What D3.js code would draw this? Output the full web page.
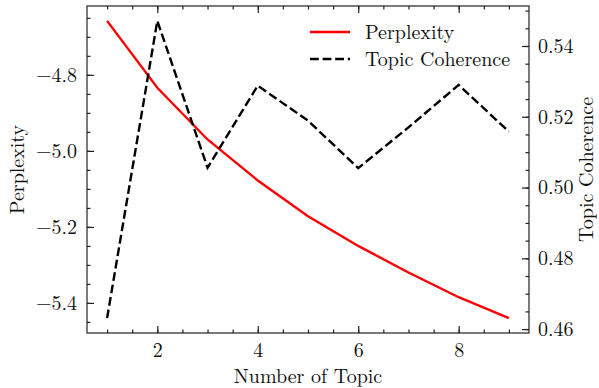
<!DOCTYPE html>
<html>
<head>
<meta charset="utf-8">
<script src="https://cdn.jsdelivr.net/npm/d3@7"></script>
<style>
  body { margin: 0; background: #fff; }
  svg { display: block; }
</style>
</head>
<body>
<div id="chart"></div>
<script>
// values
const topics = [1, 2, 3, 4, 5, 6, 7, 8, 9];
const perplexity = [-4.658, -4.834, -4.970, -5.078, -5.172, -5.250, -5.320, -5.385, -5.440];
const coherence = [0.4631, 0.5471, 0.5056, 0.5288, 0.5189, 0.5055, 0.5170, 0.5290, 0.5158];
const xTicks = [2, 4, 6, 8];
const leftTicks = [-5.4, -5.2, -5.0, -4.8];
const rightTicks = [0.46, 0.48, 0.50, 0.52, 0.54];
const seriesNames = ["Perplexity", "Topic Coherence"];

var width = 599,
	height = 388;
const margin = { top: 6, right: 70, bottom: 55, left: 87 };
const inner = { left: margin.left, right: width - margin.right, top: margin.top, bottom: height - margin.bottom };
const FONT = '"Latin Modern Roman", "Liberation Serif", serif';

// matplotlib style 5% padding
function padded(values) {
	const [lo, hi] = d3.extent(values);
	const p = (hi - lo) * 0.05;
	return [lo - p, hi + p];
}

const x = d3.scaleLinear().domain(padded(topics)).range([inner.left, inner.right]);
const yL = d3.scaleLinear().domain(padded(perplexity)).range([inner.bottom, inner.top]);
const yR = d3.scaleLinear().domain(padded(coherence)).range([inner.bottom, inner.top]);

const svg = d3.select("#chart").append("svg")
	.attr("width", width)
	.attr("height", height);

const major = 7, minor = 3.5, axisColor = "#222";

function minorRange(scale, step) {
	const [a, b] = scale.domain().slice().sort((p, q) => p - q);
	const out = [];
	for (let v = Math.ceil(a / step) * step; v <= b + 1e-9; v += step) out.push(+v.toFixed(6));
	return out;
}

function styleAxis(g) {
	g.attr("font-family", null).attr("font-size", null);
	g.select(".domain").remove();
	g.selectAll("line").attr("stroke", axisColor).attr("stroke-width", 1.2);
	g.selectAll("text").style("font-family", FONT).style("font-size", "20px").attr("fill", "#111");
}

function label(sel) {
	return sel.style("font-family", FONT).style("font-size", "20px").attr("fill", "#111");
}

// bottom axis
svg.append("g").attr("transform", `translate(0,${inner.bottom})`)
	.call(d3.axisBottom(x).tickValues(minorRange(x, 0.5)).tickSize(-minor).tickFormat(""))
	.call(styleAxis);
svg.append("g").attr("transform", `translate(0,${inner.bottom})`)
	.call(d3.axisBottom(x).tickValues(xTicks).tickSize(-major).tickPadding(10).tickFormat(d3.format("d")))
	.call(styleAxis);

// top axis (mirrored ticks)
svg.append("g").attr("transform", `translate(0,${inner.top})`)
	.call(d3.axisTop(x).tickValues(minorRange(x, 0.5)).tickSize(-minor).tickFormat(""))
	.call(styleAxis);
svg.append("g").attr("transform", `translate(0,${inner.top})`)
	.call(d3.axisTop(x).tickValues(xTicks).tickSize(-major).tickFormat(""))
	.call(styleAxis);

// left axis
svg.append("g").attr("transform", `translate(${inner.left},0)`)
	.call(d3.axisLeft(yL).tickValues(minorRange(yL, 0.05)).tickSize(-minor).tickFormat(""))
	.call(styleAxis);
svg.append("g").attr("transform", `translate(${inner.left},0)`)
	.call(d3.axisLeft(yL).tickValues(leftTicks).tickSize(-major).tickPadding(10).tickFormat(d3.format(".1f")))
	.call(styleAxis);

// right axis (twin)
svg.append("g").attr("transform", `translate(${inner.right},0)`)
	.call(d3.axisRight(yR).tickValues(minorRange(yR, 0.005)).tickSize(-minor).tickFormat(""))
	.call(styleAxis);
svg.append("g").attr("transform", `translate(${inner.right},0)`)
	.call(d3.axisRight(yR).tickValues(rightTicks).tickSize(-major).tickPadding(9).tickFormat(d3.format(".2f")))
	.call(styleAxis);

// frame
svg.append("rect")
	.attr("x", inner.left)
	.attr("y", inner.top)
	.attr("width", inner.right - inner.left)
	.attr("height", inner.bottom - inner.top)
	.attr("fill", "none")
	.attr("stroke", axisColor)
	.attr("stroke-width", 1.2);

// lines
const perpLine = d3.line().x((d, i) => x(topics[i])).y((d) => yL(d));
const cohLine = d3.line().x((d, i) => x(topics[i])).y((d) => yR(d));

svg.append("path")
	.datum(perplexity)
	.attr("d", perpLine)
	.attr("fill", "none")
	.attr("stroke", "#ff0000")
	.attr("stroke-width", 2.4);

svg.append("path")
	.datum(coherence)
	.attr("d", cohLine)
	.attr("fill", "none")
	.attr("stroke", "#000")
	.attr("stroke-width", 2.4)
	.attr("stroke-dasharray", "8.8,3.8");

// axis labels
svg.append("text")
	.attr("x", (inner.left + inner.right) / 2)
	.attr("y", 383)
	.attr("text-anchor", "middle")
	.call(label)
	.text("Number of Topic");

svg.append("text")
	.attr("transform", `translate(24,${(inner.top + inner.bottom) / 2}) rotate(-90)`)
	.attr("text-anchor", "middle")
	.call(label)
	.text("Perplexity");

svg.append("text")
	.attr("transform", `translate(593,${(inner.top + inner.bottom) / 2}) rotate(-90)`)
	.attr("text-anchor", "middle")
	.call(label)
	.text("Topic Coherence");

// legend
const legend = svg.append("g").attr("transform", `translate(${inner.right - 219},32)`);
const styles = [
	{ stroke: "#ff0000", dash: null },
	{ stroke: "#000", dash: "8.8,3.8" }
];
seriesNames.forEach((name, i) => {
	const row = legend.append("g").attr("transform", `translate(0,${i * 27})`);
	row.append("line")
		.attr("x1", 0).attr("x2", 40)
		.attr("y1", 0).attr("y2", 0)
		.attr("stroke", styles[i].stroke)
		.attr("stroke-width", 2.4)
		.attr("stroke-dasharray", styles[i].dash);
	row.append("text")
		.attr("x", 55)
		.attr("dy", "0.35em")
		.call(label)
		.text(name);
});
</script>
</body>
</html>
